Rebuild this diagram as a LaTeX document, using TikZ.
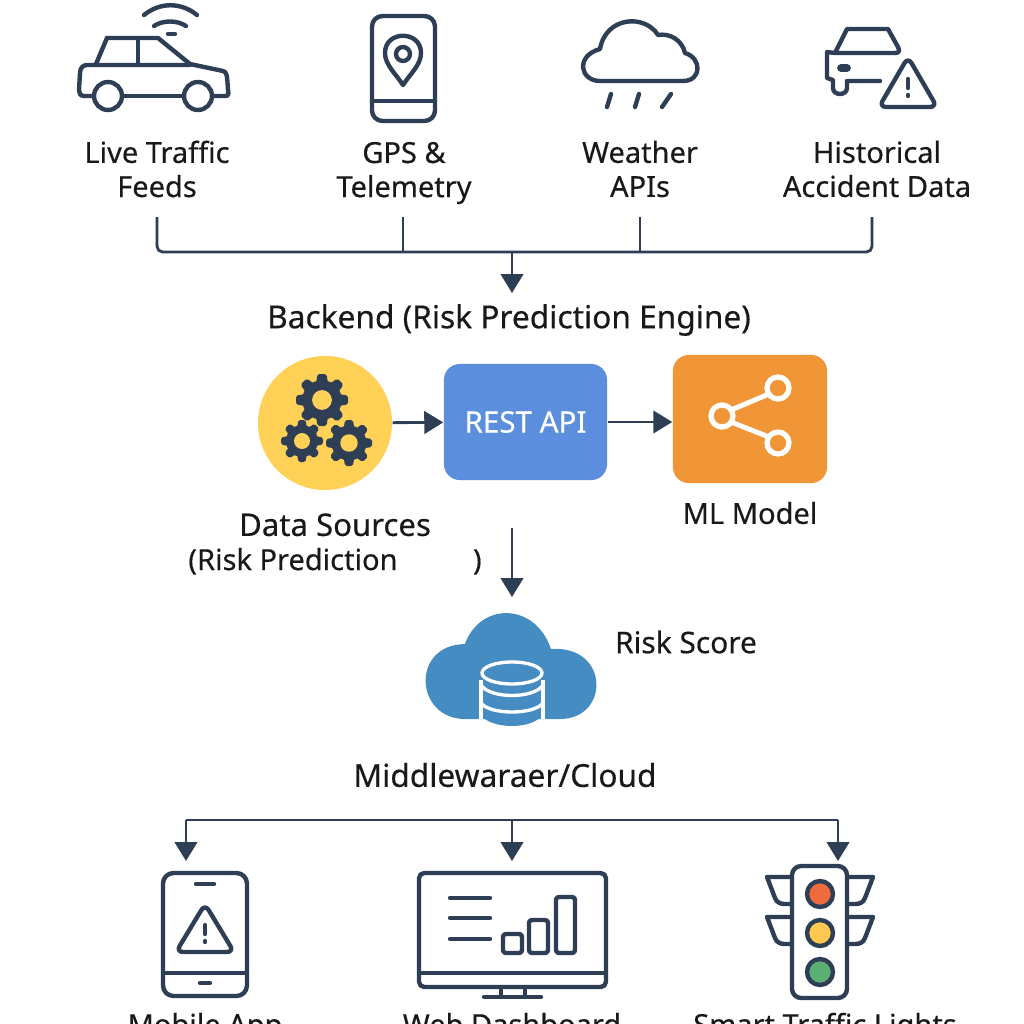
\documentclass[tikz,border=0pt]{standalone}
\usepackage{fontspec}
\setmainfont{Noto Sans}[FakeBold=0.35]
\usepackage{xcolor}
\usetikzlibrary{arrows.meta,positioning}
\definecolor{inkline}{HTML}{2E3F55}
\definecolor{sunfill}{HTML}{FFD257}
\definecolor{apifill}{HTML}{5B8FDD}
\definecolor{modelfill}{HTML}{F09637}
\definecolor{cloudfill}{HTML}{458CC3}
\tikzset{
  caption/.style={align=center,inner sep=0pt,text=black!90,font=\fontsize{8.25}{9.7}\selectfont},
  heading/.style={caption,font=\fontsize{9}{10}\selectfont},
  flow/.style={draw=inkline,line width=0.8pt,-{Triangle[length=5.4pt,width=6.4pt]}},
  busline/.style={draw=inkline,line width=0.8pt,rounded corners=1.6pt},
  icon/.style={draw=inkline,line width=1.25pt,line cap=round,line join=round},
  block/.style={rounded corners=4.5pt,inner sep=0pt}
}
\newcommand{\gearicon}[3]{%
  \begin{scope}[shift={(#1,#2)}]
    \fill[inkline] (0,0) circle ({0.76*#3});
    \foreach \a in {0,45,...,315}
      \fill[inkline,rotate=\a,rounded corners=0.5pt] (-0.24*#3,0.6*#3) -- (-0.17*#3,#3) -- (0.17*#3,#3) -- (0.24*#3,0.6*#3) -- cycle;
    \fill[sunfill] (0,0) circle ({0.38*#3});
  \end{scope}}
\begin{document}
\begin{tikzpicture}[x=0.01cm,y=-0.01cm,>=Stealth]
  \useasboundingbox (0,0) rectangle (1024,1024);
  \fill[white] (0,0) rectangle (1024,1024);
  % Car with signal
  \draw[icon] (107,38) -- (158,38) -- (190,64) -- (223,71) .. controls (227,72) and (227,75) .. (228,90) .. controls (229,95) and (228,96) .. (225,96) -- (213,96);
  \draw[icon] (183,96) -- (123,96);
  \draw[icon] (93,96) -- (84,96) .. controls (80,96) and (79,93) .. (79,90) -- (80,73) .. controls (80,68) and (83,65) .. (87,65) -- (190,65);
  \draw[icon] (96,64) -- (107,38);
  \draw[icon] (138,40) -- (138,64);
  \draw[icon] (108,96) circle (14);
  \draw[icon] (198,96) circle (14);
  \draw[icon] (144,15) .. controls (160,2) and (181,2) .. (197,15);
  \draw[icon] (154,26) .. controls (163,20) and (177,20) .. (186,26);
  \draw[icon] (168,34) -- (175,34);
  % Phone with pin
  \draw[icon,rounded corners=3pt] (372,16) rectangle (435,121);
  \draw[icon] (372,101) -- (435,101);
  \draw[icon] (403,85) .. controls (396,74) and (385,65) .. (385,53) .. controls (385,30) and (421,30) .. (421,53) .. controls (421,65) and (410,74) .. (403,85) -- cycle;
  \draw[icon] (403,54) circle (7);
  % Rain cloud
  \draw[icon] (600,81) -- (683,81) .. controls (702,81) and (702,58) .. (685,53) .. controls (682,40) and (670,33) .. (658,35) .. controls (645,14) and (606,16) .. (600,49) .. controls (575,56) and (580,81) .. (600,81) -- cycle;
  \draw[icon] (611,94) -- (607,107);
  \draw[icon] (639,94) -- (635,107);
  \draw[icon] (671,94) -- (662,107);
  % Car with warning
  \draw[icon] (835,53) -- (847,29) -- (888,29) -- (898,47) .. controls (900,51) and (899,53) .. (895,53) -- (835,53) -- (827,52) -- (827,78) -- (833,80) -- (833,88) .. controls (833,96) and (847,96) .. (847,88) -- (847,81) -- (880,81);
  \draw[icon,line width=2.2pt] (841,68) -- (847,68);
  \draw[icon,rounded corners=2pt] (908,57) -- (937,107) -- (879,107) -- cycle;
  \draw[icon] (908,79) -- (908,88);
  \draw[icon] (908,95) -- (908,96);
  % Source labels
  \node[caption] (lblLive) at (157,169) {Live Traffic\\Feeds};
  \node[caption] (lblGps) at (404,173) {GPS \&\\Telemetry};
  \node[caption] (lblWeather) at (640,169) {Weather\\APIs};
  \node[caption] (lblHistory) at (877,169) {Historical\\Accident Data};
  % Collecting bus
  \coordinate (tapLive) at (157,217);
  \coordinate (tapGps) at (403,217);
  \coordinate (tapWeather) at (640,217);
  \coordinate (tapHistory) at (872,217);
  \coordinate (busMid) at (512,252);
  \draw[busline] (tapLive) |- (busMid) -| (tapHistory);
  \draw[busline] (tapGps) -- (tapGps |- busMid);
  \draw[busline] (tapWeather) -- (tapWeather |- busMid);
  % Backend
  \node[heading] (lblBackend) at (509,320) {Backend (Risk Prediction Engine)};
  \draw[flow] (busMid) -- (512,293);
  \node[circle,fill=sunfill,minimum size=1.34cm,inner sep=0pt] (nodeData) at (325,423) {};
  \node[block,fill=apifill,minimum width=1.63cm,minimum height=1.16cm,text=white,font=\fontsize{8.4}{9.7}\selectfont] (nodeRest) at (525.5,422) {REST API};
  \node[block,fill=modelfill,minimum width=1.54cm,minimum height=1.28cm] (nodeModel) at (750,419) {};
  \draw[flow] (nodeData) -- (nodeRest);
  \draw[flow] (nodeRest.east) -- (nodeRest.east -| nodeModel.west);
  % Gears
  \gearicon{322}{400}{26}
  \gearicon{302}{441}{21}
  \gearicon{349}{443}{23}
  % Share symbol
  \draw[white,line width=1.4pt] (731,410) -- (769,394);
  \draw[white,line width=1.4pt] (731,422) -- (769,437);
  \draw[white,line width=1.5pt] (722,416) circle (11);
  \draw[white,line width=1.5pt] (778,388) circle (11);
  \draw[white,line width=1.5pt] (778,443) circle (11);
  \node[caption] (lblData) at (335,544) {{\fontsize{8.85}{9.7}\selectfont Data Sources}\\(Risk Prediction\hspace{2.6em})};
  \node[caption] (lblModel) at (750,513) {ML Model};
  % Score down to cloud
  \coordinate (scoreFrom) at (512,528);
  \coordinate (scoreTo) at (512,597);
  \draw[flow] (scoreFrom) -- (scoreTo);
  \node[caption,font=\fontsize{8.5}{9.7}\selectfont] (lblScore) at (686,642) {Risk Score};
  \fill[cloudfill] (465,719) .. controls (415,719) and (410,645) .. (465,644) .. controls (480,602) and (535,602) .. (551,649) .. controls (610,645) and (610,719) .. (560,719) -- cycle;
  \fill[cloudfill] (480,680) -- (480,714) .. controls (490,730) and (534,730) .. (543,714) -- (543,680) -- cycle;
  \draw[white,line width=0.95pt] (512,673) ellipse (30 and 11);
  \draw[white,line width=0.95pt] (481,680) -- (481,719);
  \draw[white,line width=0.95pt] (543,680) -- (543,719);
  \draw[white,line width=0.95pt] (481,685) .. controls (490,699) and (534,699) .. (543,685);
  \draw[white,line width=0.95pt] (481,703) .. controls (490,715) and (534,715) .. (543,703);
  \node[heading] (lblCloud) at (505,775) {Middlewaraer/Cloud};
  % Output bus
  \coordinate (busTop) at (512,820);
  \coordinate (outApp) at (186,861);
  \coordinate (outWeb) at (512,861);
  \coordinate (outLight) at (838,861);
  \draw[busline] (outApp |- busTop) -- (outLight |- busTop);
  \foreach \t in {outApp,outWeb,outLight}
    \draw[flow] (\t |- busTop) -- (\t);
  % Mobile app
  \draw[icon,rounded corners=3pt] (163,873) rectangle (247,996);
  \draw[icon] (163,973) -- (247,973);
  \draw[icon] (196,884) -- (214,884);
  \draw[icon] (200,983) -- (210,983);
  \draw[icon,rounded corners=2pt] (205,904) -- (234,952) -- (176,952) -- cycle;
  \draw[icon] (205,925) -- (205,934);
  \draw[icon] (205,941) -- (205,942);
  % Web dashboard
  \draw[icon,rounded corners=1.5pt] (419,873) rectangle (606,987);
  \draw[icon] (419,973) -- (606,973);
  \draw[icon] (501,987) -- (501,997);
  \draw[icon] (525,987) -- (525,997);
  \draw[icon] (484,997) -- (541,997);
  \foreach \y in {898,918,939}
    \draw[icon] (450,\y) -- (490,\y);
  \foreach \l/\t in {503/934,529/920,556/897}
    \draw[icon,rounded corners=0.8pt] (\l,\t) rectangle (\l+19,953);
  % Traffic light
  \draw[icon,rounded corners=2.6pt] (792,866) rectangle (847,998);
  \foreach \t in {877,917} {
    \draw[icon] (792,\t) -- (767,\t) -- (775,\t+21) .. controls (777,\t+26) and (781,\t+27) .. (785,\t+27) -- (792,\t+27);
    \draw[icon] (847,\t) -- (873,\t) -- (865,\t+21) .. controls (863,\t+26) and (859,\t+27) .. (855,\t+27) -- (847,\t+27);
  }
  \foreach \y/\c in {894/EF6A3C,933/FFC84E,972/5BAF73} {
    \definecolor{lamp}{HTML}{\c}
    \draw[icon,fill=lamp] (820,\y) circle (13);
  }
  % Output labels
  \node[caption,anchor=base] (lblApp) at (205,1035) {Mobile App};
  \node[caption,anchor=base] (lblWeb) at (512,1035) {Web Dashboard};
  \node[caption,anchor=base] (lblLights) at (825,1035) {Smart Traffic Lights};
\end{tikzpicture}
\end{document}
